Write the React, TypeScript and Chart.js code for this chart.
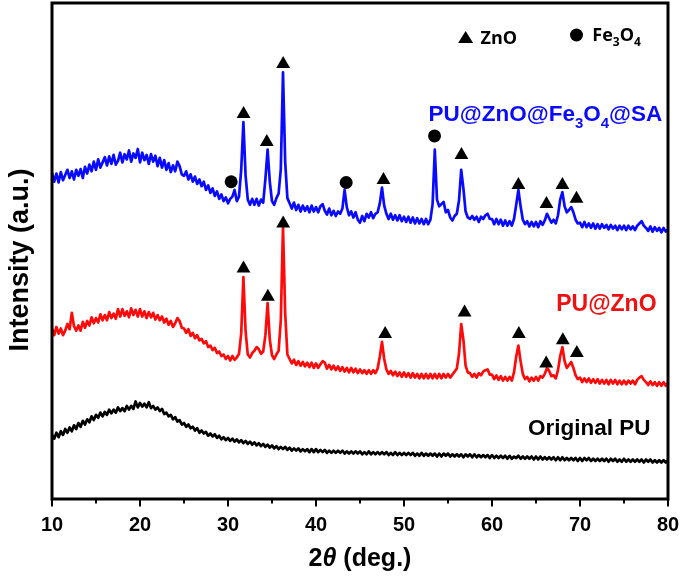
import React, { useEffect, useRef } from 'react';
import { Chart, registerables } from 'chart.js';

Chart.register(...registerables);

// 2θ sampling grid (deg.)
const twoTheta = [
  10, 10.25, 10.5, 10.75, 11, 11.25, 11.5, 11.75, 12, 12.25, 12.5, 12.75,
  13, 13.25, 13.5, 13.75, 14, 14.25, 14.5, 14.75, 15, 15.25, 15.5, 15.75,
  16, 16.25, 16.5, 16.75, 17, 17.25, 17.5, 17.75, 18, 18.25, 18.5, 18.75,
  19, 19.25, 19.5, 19.75, 20, 20.25, 20.5, 20.75, 21, 21.25, 21.5, 21.75,
  22, 22.25, 22.5, 22.75, 23, 23.25, 23.5, 23.75, 24, 24.25, 24.5, 24.75,
  25, 25.25, 25.5, 25.75, 26, 26.25, 26.5, 26.75, 27, 27.25, 27.5, 27.75,
  28, 28.25, 28.5, 28.75, 29, 29.25, 29.5, 29.75, 30, 30.25, 30.5, 30.75,
  31, 31.25, 31.5, 31.75, 32, 32.25, 32.5, 32.75, 33, 33.25, 33.5, 33.75,
  34, 34.25, 34.5, 34.75, 35, 35.25, 35.5, 35.75, 36, 36.25, 36.5, 36.75,
  37, 37.25, 37.5, 37.75, 38, 38.25, 38.5, 38.75, 39, 39.25, 39.5, 39.75,
  40, 40.25, 40.5, 40.75, 41, 41.25, 41.5, 41.75, 42, 42.25, 42.5, 42.75,
  43, 43.25, 43.5, 43.75, 44, 44.25, 44.5, 44.75, 45, 45.25, 45.5, 45.75,
  46, 46.25, 46.5, 46.75, 47, 47.25, 47.5, 47.75, 48, 48.25, 48.5, 48.75,
  49, 49.25, 49.5, 49.75, 50, 50.25, 50.5, 50.75, 51, 51.25, 51.5, 51.75,
  52, 52.25, 52.5, 52.75, 53, 53.25, 53.5, 53.75, 54, 54.25, 54.5, 54.75,
  55, 55.25, 55.5, 55.75, 56, 56.25, 56.5, 56.75, 57, 57.25, 57.5, 57.75,
  58, 58.25, 58.5, 58.75, 59, 59.25, 59.5, 59.75, 60, 60.25, 60.5, 60.75,
  61, 61.25, 61.5, 61.75, 62, 62.25, 62.5, 62.75, 63, 63.25, 63.5, 63.75,
  64, 64.25, 64.5, 64.75, 65, 65.25, 65.5, 65.75, 66, 66.25, 66.5, 66.75,
  67, 67.25, 67.5, 67.75, 68, 68.25, 68.5, 68.75, 69, 69.25, 69.5, 69.75,
  70, 70.25, 70.5, 70.75, 71, 71.25, 71.5, 71.75, 72, 72.25, 72.5, 72.75,
  73, 73.25, 73.5, 73.75, 74, 74.25, 74.5, 74.75, 75, 75.25, 75.5, 75.75,
  76, 76.25, 76.5, 76.75, 77, 77.25, 77.5, 77.75, 78, 78.25, 78.5, 78.75,
  79, 79.25, 79.5, 79.75, 80,
];

// Intensity (a.u., stacked offsets as in the figure)
const puZnOFe3O4SA = [
  876, 852, 874, 850, 878, 856, 870, 884, 862, 880, 858, 884,
  868, 886, 862, 892, 874, 898, 880, 906, 884, 912, 890, 904,
  918, 896, 920, 900, 924, 898, 908, 930, 904, 926, 912, 936,
  906, 928, 916, 940, 904, 930, 910, 924, 900, 926, 906, 922,
  894, 916, 890, 910, 884, 902, 878, 896, 880, 906, 894, 872,
  868, 880, 858, 872, 852, 866, 846, 858, 840, 852, 830, 842,
  822, 834, 814, 826, 806, 818, 800, 810, 794, 806, 812, 830,
  800, 812, 884, 1012, 868, 804, 790, 806, 790, 806, 788, 804,
  796, 860, 938, 852, 800, 790, 808, 820, 886, 1146, 904, 808,
  794, 780, 796, 776, 790, 772, 788, 774, 786, 770, 788, 772,
  784, 770, 786, 792, 774, 764, 780, 762, 774, 760, 772, 766,
  780, 830, 784, 762, 772, 756, 770, 750, 742, 760, 746, 766,
  756, 770, 754, 766, 770, 794, 836, 788, 766, 752, 766, 750,
  762, 748, 762, 746, 758, 744, 758, 742, 756, 740, 754, 740,
  752, 738, 752, 738, 750, 792, 938, 804, 786, 792, 798, 770,
  776, 756, 748, 760, 766, 802, 884, 834, 772, 756, 752, 760,
  750, 758, 744, 758, 752, 762, 766, 752, 752, 738, 752, 738,
  750, 734, 748, 734, 746, 734, 752, 790, 830, 786, 750, 738,
  746, 732, 744, 732, 744, 730, 746, 736, 748, 766, 754, 742,
  750, 740, 762, 804, 824, 786, 770, 776, 784, 770, 750, 740,
  742, 730, 744, 730, 740, 728, 740, 726, 738, 726, 738, 728,
  736, 724, 736, 726, 734, 722, 734, 724, 734, 722, 734, 724,
  732, 722, 734, 740, 746, 734, 728, 720, 732, 718, 730, 720,
  728, 716, 728, 718, 724,
];

const puZnO = [
  458, 440, 462, 444, 458, 440, 452, 470, 456, 500, 464, 452,
  466, 452, 476, 460, 478, 466, 488, 472, 486, 474, 496, 480,
  494, 480, 502, 486, 498, 484, 510, 490, 510, 492, 504, 488,
  512, 494, 508, 490, 510, 490, 504, 486, 502, 488, 500, 482,
  494, 480, 490, 474, 484, 468, 478, 462, 472, 486, 478, 460,
  458, 446, 456, 438, 446, 432, 440, 426, 430, 418, 424, 408,
  412, 400, 406, 392, 396, 384, 388, 376, 384, 372, 384, 374,
  380, 390, 444, 596, 450, 388, 380, 392, 398, 408, 402, 390,
  396, 440, 526, 428, 386, 376, 388, 398, 480, 732, 498, 388,
  376, 364, 374, 360, 370, 358, 368, 356, 366, 354, 366, 352,
  364, 352, 362, 370, 366, 350, 360, 348, 358, 346, 356, 344,
  354, 342, 352, 340, 352, 340, 350, 338, 348, 338, 346, 336,
  346, 336, 346, 338, 350, 382, 422, 376, 348, 336, 344, 332,
  342, 330, 340, 328, 340, 328, 338, 326, 338, 326, 336, 324,
  336, 324, 336, 324, 336, 324, 336, 324, 336, 324, 336, 326,
  336, 326, 334, 342, 350, 390, 470, 428, 358, 340, 338, 328,
  336, 326, 338, 332, 342, 346, 348, 334, 334, 322, 332, 320,
  330, 318, 328, 318, 328, 318, 340, 382, 412, 370, 336, 322,
  328, 316, 326, 318, 328, 318, 330, 326, 336, 352, 344, 330,
  332, 324, 346, 384, 408, 370, 352, 360, 368, 352, 332, 322,
  326, 314, 324, 314, 324, 312, 322, 312, 322, 310, 320, 310,
  320, 308, 320, 310, 320, 308, 318, 308, 318, 308, 318, 310,
  318, 308, 320, 326, 330, 320, 314, 306, 316, 306, 314, 304,
  314, 304, 314, 304, 312,
];

const originalPU = [
  172, 162, 178, 166, 182, 172, 188, 178, 192, 182, 198, 188,
  204, 194, 210, 200, 214, 206, 222, 212, 226, 218, 232, 222,
  234, 226, 240, 230, 240, 232, 246, 236, 244, 236, 250, 240,
  250, 242, 262, 246, 258, 248, 256, 246, 260, 244, 250, 240,
  246, 236, 242, 228, 232, 222, 226, 214, 220, 208, 212, 200,
  204, 194, 200, 190, 194, 184, 190, 178, 184, 176, 180, 170,
  176, 168, 174, 164, 170, 160, 166, 158, 164, 156, 162, 154,
  160, 152, 158, 150, 156, 148, 154, 146, 152, 144, 150, 142,
  148, 140, 146, 138, 144, 136, 142, 134, 140, 134, 140, 132,
  138, 130, 136, 130, 136, 128, 134, 128, 134, 126, 134, 126,
  134, 126, 132, 126, 132, 124, 130, 124, 130, 124, 130, 124,
  130, 122, 128, 122, 128, 122, 128, 122, 128, 120, 126, 120,
  128, 120, 126, 120, 126, 120, 126, 120, 126, 118, 124, 118,
  126, 118, 124, 118, 124, 118, 124, 118, 124, 116, 122, 116,
  124, 116, 122, 116, 122, 116, 122, 114, 122, 114, 122, 116,
  122, 114, 120, 114, 120, 114, 120, 112, 120, 114, 120, 112,
  120, 112, 118, 112, 118, 112, 118, 110, 118, 110, 116, 110,
  116, 110, 116, 108, 116, 108, 114, 110, 116, 108, 114, 108,
  114, 108, 114, 106, 114, 106, 114, 106, 112, 106, 112, 106,
  112, 104, 112, 104, 112, 104, 110, 104, 110, 104, 110, 102,
  110, 102, 110, 104, 110, 102, 108, 102, 108, 102, 108, 102,
  108, 100, 108, 102, 108, 100, 106, 100, 108, 100, 106, 100,
  106, 100, 106, 100, 106, 98, 106, 100, 106, 98, 104, 98,
  104, 98, 104, 98, 104,
];

// Reflection markers (peak positions, marker heights)
const znoTopX = [31.77, 34.41, 36.27, 47.67, 56.53, 63.0, 66.19, 68.0, 69.6];
const znoTopY = [1034, 959, 1168, 857, 924, 843, 792, 843, 806];
const fe3o4TopX = [30.36, 43.43, 53.47];
const fe3o4TopY = [852, 850, 975];
const znoMidX = [31.76, 34.53, 36.27, 47.86, 56.88, 63.05, 66.16, 68.05, 69.64];
const znoMidY = [619, 543, 740, 443, 501, 443, 364, 426, 392];

const majorTicks = [10, 20, 30, 40, 50, 60, 70, 80];
const minorTicks = [15, 25, 35, 45, 55, 65, 75];

const BLUE = '#0a0aff';
const RED = '#ff0a0a';
const BLACK = '#000000';

type Seg = { t: string; sub?: boolean; italic?: boolean };

function drawRich(
  ctx: CanvasRenderingContext2D,
  segs: Seg[],
  x: number,
  y: number,
  align: 'left' | 'right' | 'center',
  size: number,
  family: string,
  color: string,
) {
  const subSize = Math.round(size * 0.66);
  const fontOf = (s: Seg) =>
    `${s.italic ? 'italic ' : ''}bold ${s.sub ? subSize : size}px ${family}`;
  let total = 0;
  const widths = segs.map((s) => {
    ctx.font = fontOf(s);
    const w = ctx.measureText(s.t).width;
    total += w;
    return w;
  });
  let cx = align === 'right' ? x - total : align === 'center' ? x - total / 2 : x;
  ctx.fillStyle = color;
  ctx.textAlign = 'left';
  ctx.textBaseline = 'alphabetic';
  segs.forEach((s, i) => {
    ctx.font = fontOf(s);
    ctx.fillText(s.t, cx, s.sub ? y + size * 0.3 : y);
    cx += widths[i];
  });
}

const annotatePlugin = {
  id: 'annotate',
  afterDraw(chart: any) {
    const { ctx, chartArea: a } = chart;
    const xs = chart.scales.x;
    const ys = chart.scales.y;
    const px = (v: number) => xs.getPixelForValue(v);
    const py = (v: number) => ys.getPixelForValue(v);
    ctx.save();

    // tick marks (outside, below the axis)
    ctx.strokeStyle = '#000';
    ctx.lineWidth = 2;
    const tick = (t: number, len: number) => {
      const x = px(t);
      ctx.beginPath();
      ctx.moveTo(x, a.bottom);
      ctx.lineTo(x, a.bottom + len);
      ctx.stroke();
    };
    majorTicks.forEach((t) => tick(t, 7.5));
    minorTicks.forEach((t) => tick(t, 4.5));

    // frame
    ctx.lineWidth = 3;
    ctx.strokeRect(a.left, a.top, a.right - a.left, a.bottom - a.top);

    // legend
    const sans = '"Liberation Sans", Arial, sans-serif';
    const legendFont = '"Open Sans", "Noto Sans", sans-serif';
    const tx = px(57.0);
    const ty = py(1238);
    ctx.fillStyle = '#000';
    ctx.beginPath();
    ctx.moveTo(tx, ty - 7);
    ctx.lineTo(tx + 7.5, ty + 5);
    ctx.lineTo(tx - 7.5, ty + 5);
    ctx.closePath();
    ctx.fill();
    drawRich(ctx, [{ t: 'ZnO' }], px(58.7), py(1222), 'left', 18, legendFont, '#000');
    ctx.beginPath();
    ctx.arc(px(69.6), py(1246), 6.5, 0, Math.PI * 2);
    ctx.fillStyle = '#000';
    ctx.fill();
    drawRich(
      ctx,
      [{ t: 'Fe' }, { t: '3', sub: true }, { t: 'O' }, { t: '4', sub: true }],
      px(71.4),
      py(1230),
      'left',
      18,
      legendFont,
      '#000',
    );

    // series labels
    drawRich(
      ctx,
      [{ t: 'PU@ZnO@Fe' }, { t: '3', sub: true }, { t: 'O' }, { t: '4', sub: true }, { t: '@SA' }],
      px(79.35),
      py(1015),
      'right',
      22.5,
      sans,
      BLUE,
    );
    drawRich(ctx, [{ t: 'PU@ZnO' }], px(78.7), py(506), 'right', 23, sans, '#ee1111');
    drawRich(ctx, [{ t: 'Original PU' }], px(78.0), py(173), 'right', 22.5, sans, '#000');

    // x axis title
    drawRich(
      ctx,
      [{ t: '2' }, { t: 'θ', italic: true }, { t: ' (deg.)' }],
      (a.left + a.right) / 2,
      566,
      'center',
      25,
      sans,
      '#000',
    );

    // y axis title
    ctx.save();
    ctx.translate(28, (a.top + a.bottom) / 2 + 9);
    ctx.rotate(-Math.PI / 2);
    drawRich(ctx, [{ t: 'Intensity (a.u.)' }], 0, 0, 'center', 27, sans, '#000');
    ctx.restore();

    ctx.restore();
  },
};

export default function App() {
  const canvasRef = useRef<HTMLCanvasElement | null>(null);

  useEffect(() => {
    const canvas = canvasRef.current;
    if (!canvas) return;
    const pts = (ys: number[]) => twoTheta.map((x, i) => ({ x, y: ys[i] }));
    const marks = (xs: number[], ys: number[]) => xs.map((x, i) => ({ x, y: ys[i] }));
    const trace = (label: string, ys: number[], color: string) => ({
      label,
      data: pts(ys),
      borderColor: color,
      borderWidth: 2.7,
      borderJoinStyle: 'round' as const,
      pointRadius: 0,
      tension: 0,
    });
    const marker = (label: string, xs: number[], ys: number[], style: string, r: number) => ({
      label,
      data: marks(xs, ys),
      showLine: false,
      pointStyle: style,
      pointRadius: r,
      pointBackgroundColor: '#000',
      pointBorderColor: '#000',
      pointBorderWidth: 0,
    });

    const chart = new Chart(canvas, {
      type: 'line',
      data: {
        datasets: [
          marker('ZnO (PU@ZnO@Fe3O4@SA)', znoTopX, znoTopY, 'triangle', 8),
          marker('Fe3O4 (PU@ZnO@Fe3O4@SA)', fe3o4TopX, fe3o4TopY, 'circle', 6.5),
          marker('ZnO (PU@ZnO)', znoMidX, znoMidY, 'triangle', 8),
          trace('PU@ZnO@Fe3O4@SA', puZnOFe3O4SA, BLUE),
          trace('PU@ZnO', puZnO, RED),
          trace('Original PU', originalPU, BLACK),
        ] as any,
      },
      options: {
        animation: false,
        responsive: false,
        devicePixelRatio: 1,
        layout: { autoPadding: false, padding: { left: 52, right: 17, top: 3, bottom: 43 } },
        plugins: {
          legend: { display: false },
          tooltip: { enabled: false },
        },
        scales: {
          x: {
            type: 'linear',
            min: 10,
            max: 80,
            afterBuildTicks: (scale: any) => {
              scale.ticks = majorTicks.map((value) => ({ value }));
            },
            ticks: {
              autoSkip: false,
              padding: 4,
              color: '#000',
              font: { family: '"Liberation Sans", Arial, sans-serif', size: 20, weight: 'bold' },
            },
            grid: {
              drawOnChartArea: false,
              drawTicks: true,
              tickLength: 10,
              tickColor: 'rgba(0,0,0,0)',
              color: 'rgba(0,0,0,0)',
            },
            border: { display: false },
          },
          y: {
            display: false,
            min: 0,
            max: 1332,
          },
        },
      },
      plugins: [annotatePlugin],
    });
    return () => chart.destroy();
  }, []);

  return (
    <div style={{ position: 'absolute', left: 0, top: 0, width: 685, height: 584, background: '#fff' }}>
      <canvas ref={canvasRef} width={685} height={584} style={{ display: 'block', width: 685, height: 584 }} />
    </div>
  );
}
